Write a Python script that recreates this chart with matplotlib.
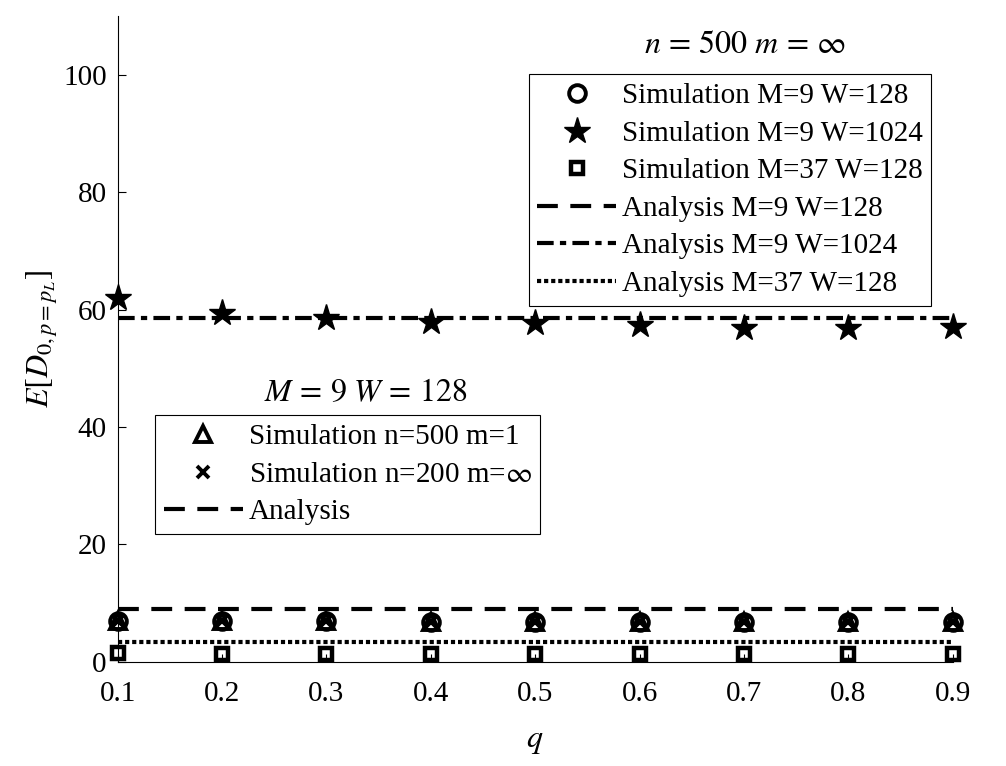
import matplotlib
matplotlib.use("Agg")
import matplotlib.pyplot as plt
import numpy as np

plt.rcParams['font.family'] = ['Liberation Serif', 'DejaVu Serif']
plt.rcParams['mathtext.fontset'] = 'stix'

# data
q = [0.1, 0.2, 0.3, 0.4, 0.5, 0.6, 0.7, 0.8, 0.9]
sim_m9_w128 = [7.0, 6.9, 6.9, 6.8, 6.8, 6.8, 6.8, 6.7, 6.7]
sim_m9_w1024 = [62.0, 59.4, 58.6, 57.9, 57.7, 57.4, 56.9, 56.9, 57.1]
sim_m37_w128 = [1.5, 1.4, 1.4, 1.4, 1.4, 1.4, 1.4, 1.4, 1.4]
ana_m9_w128 = 9.0
ana_m9_w1024 = 58.6
ana_m37_w128 = 3.4
sim_n500_m1 = [7.0, 6.9, 6.9, 6.8, 6.8, 6.8, 6.8, 6.7, 6.7]
sim_n200_minf = [7.0, 6.9, 6.9, 6.8, 6.8, 6.8, 6.8, 6.7, 6.7]

fig = plt.figure(figsize=(10.06, 7.66), dpi=100)
ax = fig.add_axes([0.117, 0.136, 0.83, 0.843])

qq = np.array(q)
h1, = ax.plot(q, sim_m9_w128, 'o', ms=12, mfc='none', mec='k', mew=2.8, ls='none', clip_on=False)
h2, = ax.plot(q, sim_m9_w1024, '*', ms=20, color='k', ls='none', clip_on=False)
h3, = ax.plot(q, sim_m37_w128, 's', ms=9, mfc='none', mec='k', mew=3.2, ls='none', clip_on=False)
h4, = ax.plot(qq, np.full(len(q), ana_m9_w128), color='k', lw=3, ls=(0, (5, 3)))
h5, = ax.plot(qq, np.full(len(q), ana_m9_w1024), color='k', lw=3, ls=(0, (4, 1.5, 1.5, 1.5)))
h6, = ax.plot(qq, np.full(len(q), ana_m37_w128), color='k', lw=3, ls=(0, (1, 0.7)))
g1, = ax.plot(q, sim_n500_m1, '^', ms=12, mfc='none', mec='k', mew=2.8, ls='none', clip_on=False)
g2, = ax.plot(q, sim_n200_minf, 'x', ms=8, color='k', mew=2.8, ls='none', clip_on=False)

ax.set_xlim(0.1, 0.9)
ax.set_ylim(0, 110)
ax.set_xticks(q)
ax.set_xticklabels(['0.1', '0.2', '0.3', '0.4', '0.5', '0.6', '0.7', '0.8', '0.9'])
ax.set_yticks([0, 20, 40, 60, 80, 100])
ax.tick_params(direction='in', labelsize=21, length=6, width=0.8, pad=8)
ax.tick_params(axis='x', pad=14)
ax.spines['top'].set_visible(False)
ax.spines['right'].set_visible(False)
ax.set_xlabel('$q$', fontsize=23, labelpad=14)
ax.set_ylabel('$E[D_{0,p=p_L}]$', fontsize=23, labelpad=2)

leg1 = ax.legend([h1, h2, h3, h4, h5, h6],
                 ['Simulation M=9 W=128', 'Simulation M=9 W=1024', 'Simulation M=37 W=128',
                  'Analysis M=9 W=128', 'Analysis M=9 W=1024', 'Analysis M=37 W=128'],
                 loc='upper left', bbox_to_anchor=(0.492, 0.91), fontsize=21,
                 handlelength=2.7, handletextpad=0.2, borderaxespad=0, borderpad=0.3,
                 labelspacing=0.38, fancybox=False, edgecolor='k', framealpha=1)
leg1.get_frame().set_linewidth(0.8)
ax.add_artist(leg1)

leg2 = ax.legend([g1, g2, h4], ['Simulation n=500 m=1', 'Simulation n=200 m=$\\infty$', 'Analysis'],
                 loc='upper left', bbox_to_anchor=(0.045, 0.382), fontsize=21,
                 handlelength=2.7, handletextpad=0.2, borderaxespad=0, borderpad=0.3,
                 labelspacing=0.38, fancybox=False, edgecolor='k', framealpha=1)
leg2.get_frame().set_linewidth(0.8)

ax.text(0.751, 0.955, '$n\\,=\\,500\\ m\\,=\\,\\infty$', transform=ax.transAxes,
        ha='center', va='center', fontsize=23)
ax.text(0.297, 0.415, '$M\\,=\\,9\\ W\\,=\\,128$', transform=ax.transAxes,
        ha='center', va='center', fontsize=23)

fig.savefig('out.png', dpi=100)
